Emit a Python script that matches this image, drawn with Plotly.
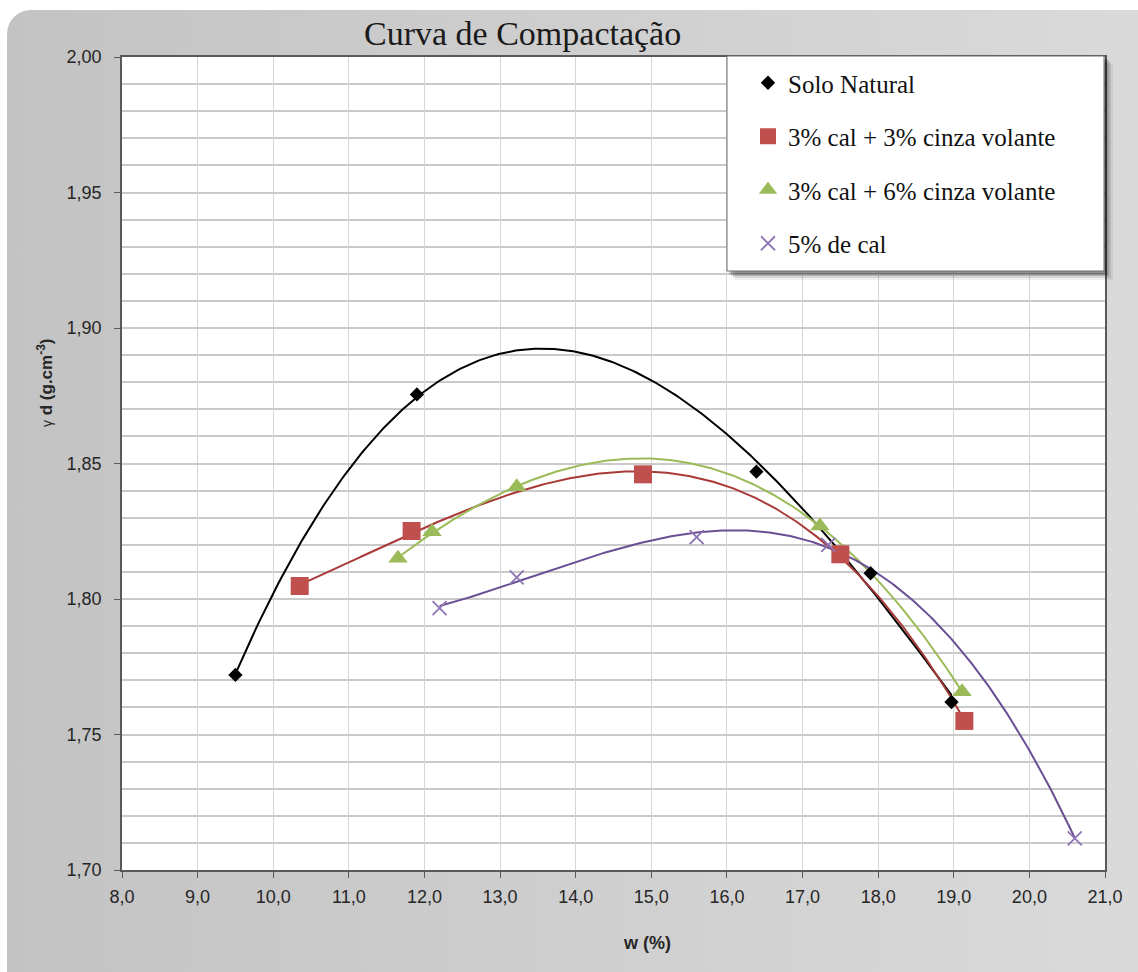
import base64
import numpy as np
import plotly.graph_objects as go

# ---------------- data ----------------
series_names = ["Solo Natural", "3% cal + 3% cinza volante",
                "3% cal + 6% cinza volante", "5% de cal"]

w_solo = [9.50, 11.90, 16.39, 17.90, 18.97]
g_solo = [1.772, 1.8755, 1.847, 1.8095, 1.762]

w_c3 = [10.35, 11.83, 14.89, 17.50, 19.14]
g_c3 = [1.8048, 1.8251, 1.846, 1.8165, 1.755]

w_c6 = [11.65, 12.10, 13.22, 17.23, 19.11]
g_c6 = [1.815, 1.8248, 1.8414, 1.8269, 1.7658]

w_cal = [12.20, 13.22, 15.60, 17.34, 20.60]
g_cal = [1.7966, 1.808, 1.8228, 1.820, 1.7117]

x_range = [8.0, 21.0]
y_range = [1.70, 2.00]

# ---------------- styling ----------------
W, H = 1138, 972
ML, MR, MT, MB = 122, 33, 57, 102
PW, PH = W - ML - MR, H - MT - MB


def px_x(p):
    return (p - ML) / PW


def px_y(p):
    return (H - MB - p) / PH


styles = [
    dict(marker=dict(symbol="diamond", size=11, color="#000000"),
         line=dict(color="#000000", width=2)),
    dict(marker=dict(symbol="square", size=18, color="#c0504d"),
         line=dict(color="#a83a38", width=2)),
    dict(marker=dict(symbol="triangle-up", size=17, color="#9bbb59"),
         line=dict(color="#9bbb59", width=2)),
    dict(marker=dict(symbol="x-thin", size=14, color="#8c74b4",
                     line=dict(color="#8c74b4", width=1.8)),
         line=dict(color="#6a4f94", width=2)),
]

data = [(w_solo, g_solo), (w_c3, g_c3), (w_c6, g_c6), (w_cal, g_cal)]

fig = go.Figure()

# polynomial trend lines (order 3, as in the spreadsheet chart)
for (xs, ys), st in zip(data, styles):
    coef = np.polyfit(xs, ys, 3)
    xx = np.linspace(min(xs), max(xs), 300)
    fig.add_trace(go.Scatter(x=xx, y=np.polyval(coef, xx), mode="lines",
                             line=st["line"], showlegend=False,
                             hoverinfo="skip"))

for i, ((xs, ys), st, name) in enumerate(zip(data, styles, series_names)):
    fig.add_trace(go.Scatter(x=xs, y=ys, mode="markers", name=name,
                             marker=st["marker"], legendgroup=f"g{i}"))

# ---------------- background (rounded gradient panel) ----------------
svg = f'''<svg xmlns="http://www.w3.org/2000/svg" width="{W}" height="{H}" viewBox="0 0 {W} {H}">
<defs><linearGradient id="g" gradientUnits="userSpaceOnUse" x1="7" y1="0" x2="{W}" y2="0">
<stop offset="0" stop-color="#c3c3c3"/><stop offset="1" stop-color="#dadada"/></linearGradient></defs>
<rect x="7" y="10" width="{W + 60}" height="{H + 60}" rx="24" ry="24" fill="url(#g)"/>
</svg>'''
src = "data:image/svg+xml;base64," + base64.b64encode(svg.encode()).decode()

fig.add_layout_image(dict(source=src, xref="paper", yref="paper",
                          x=px_x(0), y=px_y(0), sizex=W / PW, sizey=H / PH,
                          xanchor="left", yanchor="top", sizing="stretch",
                          layer="below"))

shapes = [
    dict(type="rect", xref="paper", yref="paper", x0=0, x1=1, y0=0, y1=1,
         fillcolor="white", line=dict(width=0), layer="below"),
]
# legend shadow + box
for off, op in [(9, 0.06), (7, 0.10), (5, 0.16), (3, 0.20)]:
    shapes.append(dict(type="rect", xref="paper", yref="paper",
                       x0=px_x(727 + off - 1), x1=px_x(1104 + off),
                       y0=px_y(271 + off), y1=px_y(56 + off - 1),
                       fillcolor=f"rgba(0,0,0,{op})", line=dict(width=0),
                       layer="above"))
shapes.append(dict(type="rect", xref="paper", yref="paper",
                   x0=px_x(727), x1=px_x(1104), y0=px_y(271), y1=px_y(56),
                   fillcolor="white", line=dict(color="#6f6f6f", width=1),
                   layer="above"))

tick_font = dict(family="Liberation Sans, Arial, sans-serif", size=18,
                 color="#262626")

fig.update_layout(
    width=W, height=H,
    margin=dict(l=ML, r=MR, t=MT, b=MB, pad=0),
    paper_bgcolor="white", plot_bgcolor="white",
    separators=",.",
    shapes=shapes,
    showlegend=True,
    legend=dict(x=px_x(748), y=px_y(60), xanchor="left", yanchor="top",
                bgcolor="rgba(0,0,0,0)", borderwidth=0,
                font=dict(family="Liberation Serif, serif", size=25,
                          color="#111111"),
                tracegroupgap=18, traceorder="grouped"),
    xaxis=dict(range=x_range, dtick=1, tick0=8, tickformat=".1f",
               ticks="outside", ticklen=6, tickcolor="#595959", tickwidth=1.3,
               showline=True, linecolor="#595959", linewidth=1.5, mirror=True,
               showgrid=True, gridcolor="#d6d6d6", gridwidth=1.3,
               zeroline=False, tickfont=tick_font, ticklabelstandoff=4),
    yaxis=dict(range=y_range, dtick=0.05, tick0=1.70, tickformat=".2f",
               ticks="outside", ticklen=6, tickcolor="#595959", tickwidth=1.3,
               showline=True, linecolor="#595959", linewidth=1.5, mirror=True,
               showgrid=True, gridcolor="#cacaca", gridwidth=2,
               minor=dict(dtick=0.01, showgrid=True, gridcolor="#cacaca",
                          gridwidth=2, ticks=""),
               zeroline=False, tickfont=tick_font, ticklabelstandoff=9),
    annotations=[
        dict(text="Curva de Compactação", xref="paper", yref="paper",
             x=px_x(522), y=px_y(34), xanchor="center", yanchor="middle",
             showarrow=False,
             font=dict(family="Liberation Serif, serif", size=34,
                       color="#1a1a1a")),
        dict(text="<span style='font-size:14px'>γ</span> <b>d (g.cm<sup>-3</sup>)</b>",
             xref="paper", yref="paper", x=px_x(45), y=px_y(383),
             xanchor="center", yanchor="middle", textangle=-90,
             showarrow=False,
             font=dict(family="Liberation Sans, Arial, sans-serif", size=17,
                       color="#262626")),
        dict(text="<b>w (%)</b>", xref="paper", yref="paper",
             x=px_x(647), y=px_y(943), xanchor="center", yanchor="middle",
             showarrow=False,
             font=dict(family="Liberation Sans, Arial, sans-serif", size=18,
                       color="#262626")),
    ],
)

fig.write_html("out.html")
